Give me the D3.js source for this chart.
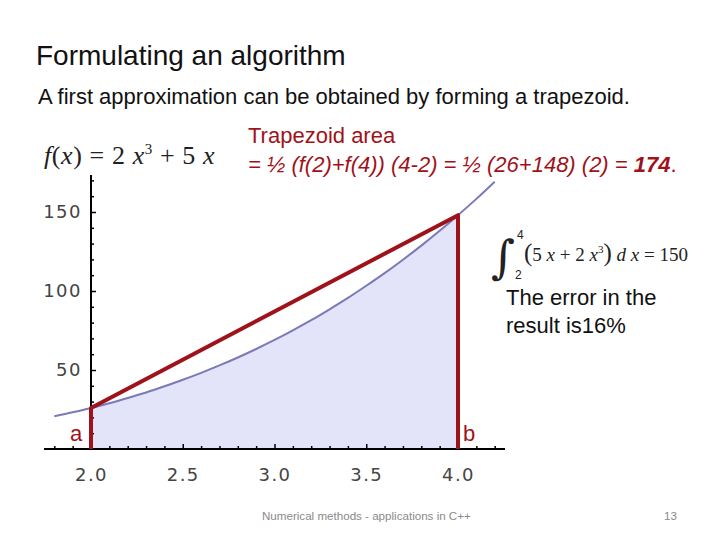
<!DOCTYPE html>
<html>
<head>
<meta charset="utf-8">
<script src="https://cdn.jsdelivr.net/npm/d3@7"></script>
<style>
  body { margin: 0; background: #fff; }
  svg { display: block; }
</style>
</head>
<body>
<div id="slide"></div>
<script>
// curve samples of f(x) = 2x^3 + 5x
const curveX = [1.8, 1.9, 2.0, 2.1, 2.2, 2.3, 2.4, 2.5, 2.6, 2.7, 2.8, 2.9, 3.0,
                3.1, 3.2, 3.3, 3.4, 3.5, 3.6, 3.7, 3.8, 3.9, 4.0, 4.1, 4.2];
const curveY = [20.7, 23.2, 26.0, 29.0, 32.3, 35.8, 39.7, 43.8, 48.2, 52.9, 57.9, 63.3, 69.0,
                75.1, 81.5, 88.4, 95.6, 103.3, 111.3, 119.8, 128.7, 138.1, 148.0, 158.3, 169.2];
// trapezoid corners
const trapX = [2, 2, 4, 4];
const trapY = [0, 26, 148, 0];
// ticks
const xTicks = [2.0, 2.5, 3.0, 3.5, 4.0];
const xMinor = [1.8, 1.9, 2.1, 2.2, 2.3, 2.4, 2.6, 2.7, 2.8, 2.9, 3.1, 3.2, 3.3, 3.4,
                3.6, 3.7, 3.8, 3.9, 4.1, 4.2];
const yTicks = [50, 100, 150];
const yMinor = [10, 20, 30, 40, 60, 70, 80, 90, 110, 120, 130, 140, 160, 170];

const width = 720, height = 540;
const svg = d3.select('#slide').append('svg')
    .attr('width', width).attr('height', height);

const x = d3.scaleLinear().domain([2, 4]).range([91, 458]);
const y = d3.scaleLinear().domain([0, 150]).range([449, 212]);

const red = '#a0121a';
const sans = '"Liberation Sans", Arial, sans-serif';
const serif = '"Liberation Serif", "DejaVu Serif", serif';

// slide texts
svg.append('text').attr('x', 36).attr('y', 65)
    .attr('font-family', sans).attr('font-size', 28).attr('fill', '#111')
    .text('Formulating an algorithm');
svg.append('text').attr('x', 38).attr('y', 104)
    .attr('font-family', sans).attr('font-size', 22).attr('fill', '#111')
    .text('A first approximation can be obtained by forming a trapezoid.');

// shaded area between a and b
const inside = curveX.map((d, i) => [d, curveY[i]]).filter(d => d[0] >= 2 && d[0] <= 4);
svg.append('path')
    .datum(inside)
    .attr('fill', '#e3e3fa')
    .attr('d', d3.area().x(d => x(d[0])).y0(y(0)).y1(d => y(d[1])).curve(d3.curveMonotoneX));

// curve
svg.append('path')
    .datum(curveX.map((d, i) => [d, curveY[i]]))
    .attr('fill', 'none')
    .attr('stroke', '#7a7ab8')
    .attr('stroke-width', 2)
    .attr('d', d3.line().x(d => x(d[0])).y(d => y(d[1])).curve(d3.curveMonotoneX));

// axes, Mathematica style ticks pointing inward
const gx = svg.append('g').attr('transform', `translate(0,${y(0)})`);
gx.call(d3.axisBottom(x).tickValues(xTicks).tickFormat(d3.format('.1f'))
    .tickSize(-5).tickSizeOuter(0).tickPadding(19));
gx.select('.domain').remove();
svg.append('g').attr('transform', `translate(0,${y(0)})`)
    .call(d3.axisBottom(x).tickValues(xMinor).tickFormat('').tickSize(-3).tickSizeOuter(0))
    .select('.domain').remove();
svg.append('line')
    .attr('x1', 44).attr('x2', 505).attr('y1', y(0)).attr('y2', y(0))
    .attr('stroke', '#000').attr('stroke-width', 2);

const gy = svg.append('g').attr('transform', `translate(${x(2)},0)`);
gy.call(d3.axisLeft(y).tickValues(yTicks).tickSize(-5).tickSizeOuter(0).tickPadding(9));
gy.select('.domain').remove();
svg.append('g').attr('transform', `translate(${x(2)},0)`)
    .call(d3.axisLeft(y).tickValues(yMinor).tickFormat('').tickSize(-3).tickSizeOuter(0))
    .select('.domain').remove();
svg.append('line')
    .attr('x1', x(2)).attr('x2', x(2)).attr('y1', 175).attr('y2', y(0))
    .attr('stroke', '#000').attr('stroke-width', 2);

svg.selectAll('.tick line').attr('stroke', '#000').attr('stroke-width', 1.5);
svg.selectAll('.tick text')
    .attr('font-family', '"DejaVu Sans", sans-serif')
    .attr('font-size', 18)
    .attr('fill', '#444')
    .attr('letter-spacing', 1.5);

// trapezoid
svg.append('path')
    .datum(trapX.map((d, i) => [d, trapY[i]]))
    .attr('fill', 'none')
    .attr('stroke', red)
    .attr('stroke-width', 4)
    .attr('stroke-linejoin', 'round')
    .attr('d', d3.line().x(d => x(d[0])).y(d => y(d[1])));

svg.append('text').attr('x', x(2) - 21).attr('y', 441)
    .attr('font-family', sans).attr('font-size', 22).attr('fill', red).text('a');
svg.append('text').attr('x', x(4) + 5).attr('y', 441)
    .attr('font-family', sans).attr('font-size', 22).attr('fill', red).text('b');

// formula f(x)
const fx = svg.append('text').attr('x', 44).attr('y', 164)
    .attr('font-family', serif).attr('font-size', 26).attr('fill', '#222')
    .attr('letter-spacing', 0.6);
fx.append('tspan').attr('font-style', 'italic').text('f');
fx.append('tspan').text('(');
fx.append('tspan').attr('font-style', 'italic').text('x');
fx.append('tspan').text(') = 2 ');
fx.append('tspan').attr('font-style', 'italic').text('x');
fx.append('tspan').attr('font-size', 15).attr('dy', -10).text('3');
fx.append('tspan').attr('dy', 10).text(' + 5 ');
fx.append('tspan').attr('font-style', 'italic').text('x');

// trapezoid area text
svg.append('text').attr('x', 248).attr('y', 143)
    .attr('font-family', sans).attr('font-size', 22).attr('fill', red)
    .text('Trapezoid area');
const area = svg.append('text').attr('x', 248).attr('y', 172)
    .attr('font-family', sans).attr('font-size', 22).attr('fill', red);
area.append('tspan').attr('font-style', 'italic').text('= ½ (f(2)+f(4)) (4-2) = ½ (26+148) (2) = ');
area.append('tspan').attr('font-style', 'italic').attr('font-weight', 'bold').text('174');
area.append('tspan').text('.');

// integral
svg.append('text').attr('x', 491).attr('y', 273)
    .attr('font-family', '"DejaVu Serif", serif').attr('font-size', 46).attr('fill', '#222').text('∫');
svg.append('text').attr('x', 517).attr('y', 239)
    .attr('font-family', sans).attr('font-size', 12).attr('fill', '#222').text('4');
svg.append('text').attr('x', 515).attr('y', 279)
    .attr('font-family', sans).attr('font-size', 12).attr('fill', '#222').text('2');
const integ = svg.append('text').attr('x', 524).attr('y', 261)
    .attr('font-family', serif).attr('font-size', 19).attr('fill', '#222');
integ.append('tspan').attr('font-size', 25).text('(');
integ.append('tspan').text('5 ');
integ.append('tspan').attr('font-style', 'italic').text('x');
integ.append('tspan').text(' + 2 ');
integ.append('tspan').attr('font-style', 'italic').text('x');
integ.append('tspan').attr('font-size', 11).attr('dy', -8).text('3');
integ.append('tspan').attr('dy', 8).attr('font-size', 25).text(')');
integ.append('tspan').attr('font-style', 'italic').text(' d x');
integ.append('tspan').text(' = 150');

svg.append('text').attr('x', 506).attr('y', 305)
    .attr('font-family', sans).attr('font-size', 22).attr('fill', '#111').text('The error in the');
svg.append('text').attr('x', 506).attr('y', 333)
    .attr('font-family', sans).attr('font-size', 22).attr('fill', '#111').text('result is16%');

// footer
svg.append('text').attr('x', 262).attr('y', 520)
    .attr('font-family', sans).attr('font-size', 11.6).attr('fill', '#8a8a8a')
    .text('Numerical methods - applications in C++');
svg.append('text').attr('x', 677).attr('y', 520).attr('text-anchor', 'end')
    .attr('font-family', sans).attr('font-size', 11.6).attr('fill', '#8a8a8a')
    .text('13');
</script>
</body>
</html>
